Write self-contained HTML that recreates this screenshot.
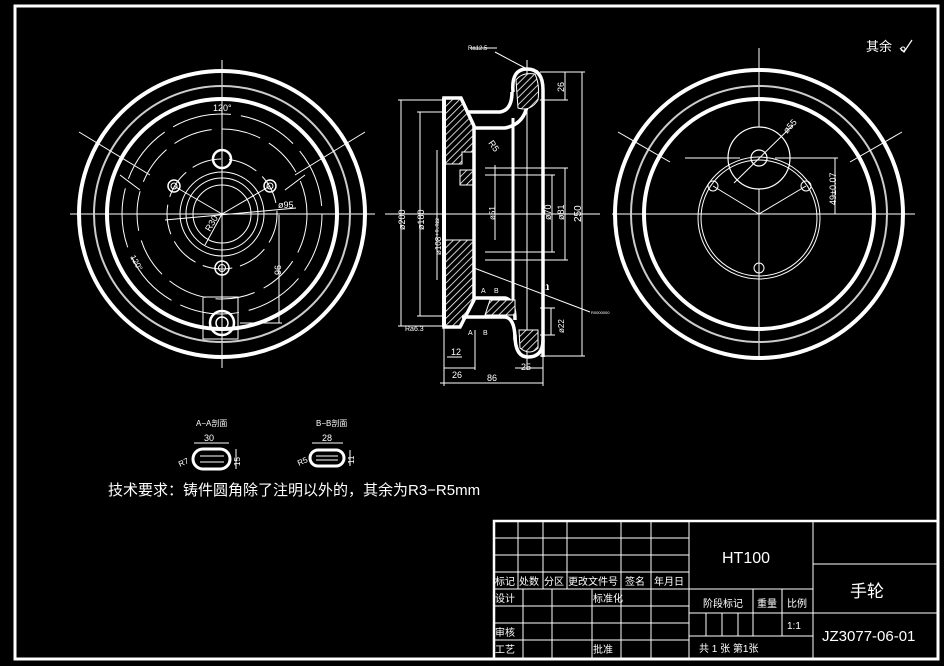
<!DOCTYPE html>
<html><head><meta charset="utf-8"><style>
html,body{margin:0;padding:0;background:#000;}
svg{display:block;}
text{font-family:"Liberation Sans","Noto Sans CJK SC",sans-serif;fill:#fff;}
</style></head><body>
<svg width="944" height="666" viewBox="0 0 944 666" xmlns="http://www.w3.org/2000/svg">
<defs>
<pattern id="h" width="5" height="5" patternUnits="userSpaceOnUse" patternTransform="rotate(45)">
<rect width="5" height="5" fill="#000"/><line x1="0" y1="0" x2="0" y2="5" stroke="#fff" stroke-width="1.6"/>
</pattern>
</defs>
<rect x="0" y="0" width="944" height="666" fill="#000"/>
<!-- border -->
<rect x="15" y="6" width="923" height="653" fill="none" stroke="#fff" stroke-width="3"/>

<!-- LEFT VIEW -->
<g fill="none" stroke="#fff">
<line x1="70" y1="214" x2="375" y2="214" stroke-width="1"/>
<line x1="222" y1="60" x2="222" y2="368" stroke-width="1"/>
<circle cx="222" cy="214" r="143" stroke-width="4"/>
<circle cx="222" cy="214" r="128" stroke-width="2" stroke="#ccc"/>
<circle cx="222" cy="214" r="115" stroke-width="4"/>
<circle cx="222" cy="214" r="100" stroke-width="1" stroke-dasharray="60 10"/>
<circle cx="222" cy="214" r="85" stroke-width="1" stroke-dasharray="40 10"/>
<circle cx="222" cy="214" r="55" stroke-width="1" stroke-dasharray="30 8"/>
<circle cx="222" cy="214" r="42" stroke-width="1"/>
<circle cx="222" cy="214" r="36" stroke-width="1"/>
<circle cx="222" cy="214" r="29" stroke-width="1"/>
<circle cx="222" cy="159" r="9" stroke-width="2.5"/>
<circle cx="174" cy="186" r="6" stroke-width="1.5"/><circle cx="174" cy="186" r="3" stroke-width="1"/>
<circle cx="270" cy="186" r="6" stroke-width="1.5"/><circle cx="270" cy="186" r="3" stroke-width="1"/>
<circle cx="222" cy="268" r="7" stroke-width="1.5"/><circle cx="222" cy="268" r="3.5" stroke-width="1"/>
<line x1="222" y1="214" x2="174" y2="186" stroke-width="1"/>
<line x1="222" y1="214" x2="270" y2="186" stroke-width="1"/>
<line x1="222" y1="214" x2="205" y2="245" stroke-width="1"/>
<line x1="165" y1="220" x2="296" y2="208" stroke-width="1"/>
<line x1="79" y1="132" x2="150" y2="175" stroke-width="1"/>
<line x1="365" y1="132" x2="295" y2="175" stroke-width="1"/>
<line x1="120" y1="175" x2="140" y2="190" stroke-width="1"/>
<line x1="305" y1="175" x2="285" y2="190" stroke-width="1"/>
<rect x="203" y="297" width="35" height="42" stroke-width="1"/>
<circle cx="222" cy="323" r="12" stroke-width="2.5"/>
<circle cx="222" cy="323" r="6" stroke-width="1.5"/>
<line x1="279" y1="215" x2="279" y2="323" stroke-width="1"/>
<line x1="240" y1="323" x2="282" y2="323" stroke-width="1"/>
</g>
<text x="213" y="111" font-size="9">120°</text>
<text x="278" y="208" font-size="9">ø95</text>
<text x="0" y="0" font-size="9" transform="translate(210,232) rotate(-60)">R30</text>
<text x="0" y="0" font-size="9" transform="translate(281,275) rotate(-90)">96</text>
<text x="0" y="0" font-size="8" transform="translate(130,257) rotate(60)">120°</text>

<!-- SECTION VIEW -->
<g stroke="#fff" fill="none">
<!-- centerline -->
<line x1="385" y1="214" x2="600" y2="214" stroke-width="1"/>
<line x1="527" y1="60" x2="527" y2="370" stroke-width="1"/>
<!-- hub hatched -->
<path d="M444,99 L462,99 L474,126 L474,152 L462,152 L462,164 L444,164 Z" fill="url(#h)" stroke-width="1"/>
<path d="M444,240 L474,240 L474,296 L462,326 L444,326 Z" fill="url(#h)" stroke-width="1"/>
<path d="M460,170 L474,170 L474,185 L460,185 Z" fill="url(#h)" stroke-width="1"/>
<!-- hub outline -->
<path d="M444,98 L461,98 L474,126 L474,300 L460,327 L444,327 Z" stroke-width="3.5"/>
<line x1="444" y1="98" x2="444" y2="327" stroke-width="4"/>
<!-- top spoke -->
<path d="M468,112 L500,112 Q512,110 512,92" stroke-width="3.5"/>
<path d="M474,128 L505,128 Q526,124 528,100" stroke-width="3.5"/>
<!-- top rim -->
<path d="M513,92 Q511,69 527,69 Q543,69 543,90 L543,357" stroke-width="3.5"/>
<path d="M516,80 Q522,72 535,74 Q540,85 538,100 Q530,112 518,108 Z" fill="url(#h)" stroke-width="1"/>
<line x1="513" y1="118" x2="513" y2="300" stroke-width="3"/>
<!-- bottom spoke -->
<path d="M474,298 L505,298 Q515,300 515,320" stroke-width="3.5"/>
<path d="M462,317 L505,317 Q515,318 515,340" stroke-width="3.5"/>
<path d="M490,300 L515,300 L515,315 L485,315 Z" fill="url(#h)" stroke-width="1"/>
<!-- bottom rim -->
<path d="M515,335 Q515,357 528,357 Q543,357 543,340" stroke-width="3.5"/>
<path d="M519,330 L538,330 L538,348 Q530,356 520,348 Z" fill="url(#h)" stroke-width="1"/>
<!-- dimensions -->
<g stroke-width="1">
<line x1="401" y1="100" x2="401" y2="326"/><line x1="398" y1="100" x2="444" y2="100"/><line x1="398" y1="326" x2="444" y2="326"/>
<line x1="420" y1="112" x2="420" y2="316"/><line x1="417" y1="112" x2="444" y2="112"/><line x1="417" y1="316" x2="444" y2="316"/>
<line x1="437" y1="150" x2="437" y2="280"/>
<line x1="495" y1="165" x2="495" y2="240"/>
<line x1="552" y1="175" x2="552" y2="252"/><line x1="485" y1="175" x2="555" y2="175"/><line x1="485" y1="252" x2="555" y2="252"/>
<line x1="565" y1="168" x2="565" y2="260"/><line x1="485" y1="168" x2="568" y2="168"/><line x1="485" y1="260" x2="568" y2="260"/>
<line x1="582" y1="72" x2="582" y2="356"/><line x1="540" y1="72" x2="585" y2="72"/><line x1="540" y1="356" x2="585" y2="356"/>
<line x1="565" y1="72" x2="565" y2="100"/><line x1="540" y1="100" x2="568" y2="100"/>
<line x1="440" y1="383" x2="543" y2="383"/><line x1="444" y1="327" x2="444" y2="386"/><line x1="543" y1="357" x2="543" y2="386"/>
<line x1="444" y1="368" x2="475" y2="368"/><line x1="515" y1="368" x2="543" y2="368"/><line x1="475" y1="330" x2="475" y2="370"/>
<line x1="447" y1="357" x2="462" y2="357"/>
<line x1="551" y1="308" x2="551" y2="335"/><line x1="540" y1="308" x2="555" y2="308"/><line x1="540" y1="335" x2="555" y2="335"/>
<line x1="495" y1="52" x2="527" y2="69"/><line x1="470" y1="48" x2="497" y2="48"/>
<line x1="474" y1="268" x2="590" y2="312"/>
<line x1="548" y1="285" x2="548" y2="290"/>
</g>
</g>
<text x="468" y="50" font-size="6">Ra12.5</text>
<text x="0" y="0" font-size="9" transform="translate(405,230) rotate(-90)">ø200</text>
<text x="0" y="0" font-size="9" transform="translate(424,230) rotate(-90)">ø180</text>
<text x="0" y="0" font-size="8" transform="translate(441,255) rotate(-90)">ø108⁺⁰·⁰²²</text>
<text x="0" y="0" font-size="8" transform="translate(495,220) rotate(-90)">ø51</text>
<text x="0" y="0" font-size="9" transform="translate(551,220) rotate(-90)">ø70</text>
<text x="0" y="0" font-size="9" transform="translate(564,220) rotate(-90)">ø81</text>
<text x="0" y="0" font-size="10" transform="translate(581,222) rotate(-90)">250</text>
<text x="0" y="0" font-size="9" transform="translate(564,92) rotate(-90)">26</text>
<text x="0" y="0" font-size="8" transform="translate(564,333) rotate(-90)">ø22</text>
<text x="0" y="0" font-size="9" transform="translate(488,143) rotate(55)">R5</text>
<text x="451" y="355" font-size="9">12</text>
<text x="452" y="378" font-size="9">26</text>
<text x="487" y="381" font-size="9">86</text>
<text x="521" y="370" font-size="9">25</text>
<text x="481" y="293" font-size="7">A</text>
<text x="494" y="293" font-size="7">B</text>
<text x="468" y="335" font-size="7">A</text>
<text x="483" y="335" font-size="7">B</text>
<text x="545" y="290" font-size="8">1</text>
<text x="591" y="314" font-size="4">R0000000</text>
<text x="405" y="331" font-size="7">Ra6.3</text>

<!-- RIGHT VIEW -->
<g fill="none" stroke="#fff">
<line x1="612" y1="214" x2="915" y2="214" stroke-width="1"/>
<line x1="759" y1="48" x2="759" y2="360" stroke-width="1"/>
<circle cx="759" cy="214" r="144" stroke-width="4"/>
<circle cx="759" cy="214" r="128" stroke-width="2" stroke="#ccc"/>
<circle cx="759" cy="214" r="115" stroke-width="4"/>
<circle cx="759" cy="158" r="31" stroke-width="1.2" fill="#000"/>
<circle cx="759" cy="158" r="8" stroke-width="1.2"/>
<circle cx="759" cy="218" r="58" stroke-width="1"/>
<circle cx="759" cy="218" r="61" stroke-width="1"/>
<circle cx="713" cy="186" r="5" stroke-width="1"/>
<circle cx="806" cy="186" r="5" stroke-width="1"/>
<circle cx="759" cy="268" r="5" stroke-width="1"/>
<line x1="759" y1="214" x2="713" y2="186" stroke-width="1"/>
<line x1="759" y1="214" x2="806" y2="186" stroke-width="1"/>
<line x1="734" y1="183" x2="793" y2="125" stroke-width="1"/>
<line x1="685" y1="158" x2="740" y2="158" stroke-width="1"/>
<line x1="775" y1="158" x2="838" y2="158" stroke-width="1"/>
<line x1="835" y1="158" x2="835" y2="214" stroke-width="1"/>
<line x1="618" y1="132" x2="670" y2="162" stroke-width="1"/>
<line x1="902" y1="132" x2="850" y2="162" stroke-width="1"/>
</g>
<text x="0" y="0" font-size="9" transform="translate(787,134) rotate(-48)">ø55</text>
<text x="0" y="0" font-size="9" transform="translate(836,205) rotate(-90)">49±0.07</text>
<text x="866" y="51" font-size="13">其余</text>
<path d="M900,48 L904,52 L912,40" fill="none" stroke="#fff" stroke-width="1.2"/>
<circle cx="903" cy="49" r="2" fill="none" stroke="#fff"/>

<!-- small sections -->
<text x="196" y="426" font-size="8">A−A剖面</text>
<text x="316" y="426" font-size="8">B−B剖面</text>
<g fill="none" stroke="#fff">
<rect x="193" y="449" width="37" height="20" rx="10" stroke-width="3"/>
<line x1="200" y1="456" x2="224" y2="456" stroke-width="1"/><line x1="200" y1="462" x2="224" y2="462" stroke-width="1"/>
<line x1="194" y1="443" x2="229" y2="443" stroke-width="1"/>
<line x1="236" y1="449" x2="236" y2="469" stroke-width="1"/>
<rect x="310" y="450" width="34" height="16" rx="8" stroke-width="3"/>
<line x1="316" y1="456" x2="338" y2="456" stroke-width="1"/><line x1="316" y1="460" x2="338" y2="460" stroke-width="1"/>
<line x1="312" y1="443" x2="343" y2="443" stroke-width="1"/>
<line x1="350" y1="450" x2="350" y2="466" stroke-width="1"/>
</g>
<text x="204" y="441" font-size="9">30</text>
<text x="322" y="441" font-size="9">28</text>
<text x="0" y="0" font-size="8" transform="translate(180,467) rotate(-25)">R7</text>
<text x="0" y="0" font-size="8" transform="translate(299,466) rotate(-25)">R5</text>
<text x="0" y="0" font-size="8" transform="translate(240,466) rotate(-90)">15</text>
<text x="0" y="0" font-size="8" transform="translate(354,464) rotate(-90)">11</text>

<text x="108" y="495" font-size="15">技术要求：铸件圆角除了注明以外的，其余为R3−R5mm</text>

<!-- TITLE BLOCK -->
<g stroke="#fff" fill="none" stroke-width="1">
<rect x="494" y="521" width="444" height="138" stroke-width="2.5"/>
<line x1="494" y1="538" x2="689" y2="538"/>
<line x1="494" y1="555" x2="689" y2="555"/>
<line x1="494" y1="572" x2="689" y2="572"/>
<line x1="494" y1="589" x2="689" y2="589"/>
<line x1="494" y1="606" x2="689" y2="606"/>
<line x1="494" y1="623" x2="689" y2="623"/>
<line x1="494" y1="640" x2="689" y2="640"/>
<line x1="518" y1="521" x2="518" y2="589"/>
<line x1="543" y1="521" x2="543" y2="589"/>
<line x1="567" y1="521" x2="567" y2="589"/>
<line x1="523" y1="589" x2="523" y2="659"/>
<line x1="552" y1="589" x2="552" y2="659"/>
<line x1="592" y1="589" x2="592" y2="659"/>
<line x1="621" y1="521" x2="621" y2="659"/>
<line x1="651" y1="521" x2="651" y2="659"/>
<line x1="689" y1="521" x2="689" y2="659"/>
<line x1="813" y1="521" x2="813" y2="659"/>
<line x1="689" y1="589" x2="813" y2="589"/>
<line x1="689" y1="613" x2="813" y2="613"/>
<line x1="689" y1="636" x2="813" y2="636"/>
<line x1="753" y1="589" x2="753" y2="636"/>
<line x1="782" y1="589" x2="782" y2="636"/>
<line x1="706" y1="613" x2="706" y2="636"/>
<line x1="722" y1="613" x2="722" y2="636"/>
<line x1="738" y1="613" x2="738" y2="636"/>
<line x1="813" y1="564" x2="938" y2="564"/>
<line x1="813" y1="613" x2="938" y2="613"/>
</g>
<g font-size="10">
<text x="495" y="585">标记</text><text x="519" y="585">处数</text><text x="544" y="585">分区</text>
<text x="568" y="585">更改文件号</text><text x="625" y="585">签名</text><text x="654" y="585">年月日</text>
<text x="495" y="602">设计</text><text x="593" y="602">标准化</text>
<text x="495" y="636">审核</text><text x="495" y="653">工艺</text><text x="593" y="653">批准</text>
<text x="703" y="607">阶段标记</text><text x="757" y="607">重量</text><text x="787" y="607">比例</text>
<text x="787" y="629">1:1</text>
<text x="699" y="652">共 1 张 第1张</text>
</g>
<text x="722" y="563" font-size="16">HT100</text>
<text x="850" y="597" font-size="17">手轮</text>
<text x="822" y="641" font-size="15">JZ3077-06-01</text>
</svg>
</body></html>
